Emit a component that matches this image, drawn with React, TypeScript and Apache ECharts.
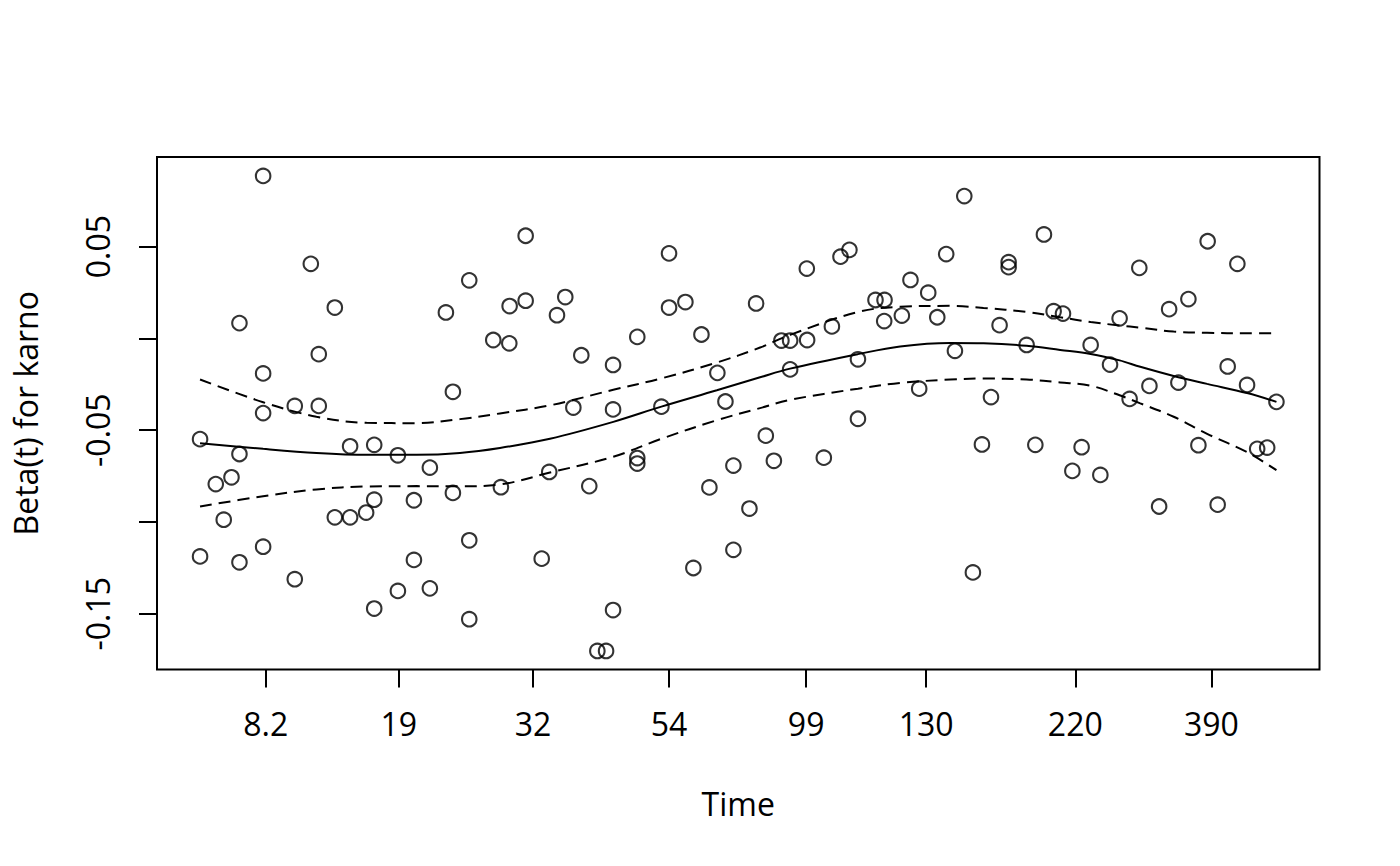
import React, { useEffect, useRef } from "react";
import * as echarts from "echarts";

// Transformed (KM-scale) time of each event and the scaled Schoenfeld residual for karno
const residTime = [
  0.0586, 0.1029, 0.1252, 0.2284, 0.0366, 0.1103, 0.0586, 0.2349, 0.088, 0.1103,
  0.0586, 0.0, 0.1394, 0.1618, 0.0366, 0.1838, 0.2135, 0.0292, 0.0146, 0.1618,
  0.1987, 0.2349, 0.022, 0.1252, 0.1394, 0.1543, 0.0, 0.0366, 0.0586, 0.1987,
  0.088, 0.1838, 0.2135, 0.1618,
  0.3025, 0.4357, 0.2501, 0.2876, 0.3025, 0.3393, 0.3316, 0.4357, 0.4509, 0.5166,
  0.2724, 0.2873, 0.4062, 0.4658, 0.3542, 0.3837, 0.4806, 0.3468, 0.3837, 0.4286,
  0.4881, 0.4062, 0.4062, 0.3244, 0.4955, 0.2795, 0.3616, 0.4732, 0.5104, 0.2501,
  0.3174, 0.4955, 0.4583, 0.2501, 0.3837, 0.3691, 0.3772,
  0.71, 0.784, 0.6033, 0.595, 0.5637, 0.6932, 0.7512, 0.7512, 0.66, 0.6765,
  0.6275, 0.6359, 0.6356, 0.652, 0.6849, 0.7428, 0.587, 0.5401, 0.5482, 0.564,
  0.5482, 0.6112, 0.7013, 0.7679, 0.6681, 0.7348, 0.6112, 0.5256, 0.5331, 0.5795,
  0.7264, 0.776, 0.718,
  0.9361, 0.9637, 0.8726, 0.9182, 0.9003, 0.793, 0.8017, 0.8543, 0.8274, 0.8454,
  0.9547, 0.9727, 0.882, 0.9089, 1.0, 0.8636, 0.819, 0.9275, 0.9821, 0.9914,
  0.8104, 0.8364, 0.891, 0.9454,
];

const residBeta = [
  0.0885, 0.0406, 0.0168, 0.0141, 0.0083, -0.0086, -0.0191, -0.0291, -0.0368, -0.0368,
  -0.0407, -0.0549, -0.0588, -0.058, -0.063, -0.0637, -0.0704, -0.0757, -0.0794, -0.0879,
  -0.0882, -0.0842, -0.0988, -0.0975, -0.0975, -0.0949, -0.1188, -0.122, -0.1135, -0.1207,
  -0.1312, -0.1376, -0.1362, -0.1472,
  0.0559, 0.0463, 0.0316, 0.0176, 0.0205, 0.0225, 0.0126, 0.0168, 0.0198, 0.019,
  -0.0009, -0.0027, 0.0008, 0.0021, -0.0092, -0.0145, -0.0188, -0.0377, -0.0387, -0.0372,
  -0.0344, -0.0652, -0.0682, -0.0728, -0.0693, -0.0811, -0.0805, -0.0812, -0.0927, -0.11,
  -0.12, -0.1152, -0.1251, -0.153, -0.148, -0.1703, -0.1703,
  0.0775, 0.0566, 0.0482, 0.0445, 0.038, 0.0459, 0.0415, 0.0388, 0.0318, 0.0249,
  0.0209, 0.0209, 0.0094, 0.0124, 0.0115, 0.0072, 0.0065, -0.0012, -0.0012, -0.0009,
  -0.0169, -0.0114, -0.0068, -0.0036, -0.0274, -0.032, -0.0438, -0.053, -0.0667, -0.065,
  -0.0578, -0.058, -0.1275,
  0.0529, 0.0406, 0.0384, 0.0214, 0.0159, 0.0148, 0.0135, 0.0109, -0.0036, -0.0143,
  -0.0153, -0.0254, -0.0259, -0.0241, -0.0346, -0.033, -0.0593, -0.0582, -0.0602, -0.0595,
  -0.0722, -0.0744, -0.0916, -0.0906,
];

// Smoothed fit and its confidence band
const fitTime = [
  0, 0.0586, 0.1082, 0.1547, 0.2014, 0.2414, 0.2786, 0.3251, 0.3839, 0.4286, 0.4801,
  0.5203, 0.5482, 0.6112, 0.6504, 0.6969, 0.7279, 0.7679, 0.7991, 0.8274, 0.8543,
  0.8735, 0.9045, 0.9356, 0.9727, 1.0,
];
const fitBeta = [
  -0.0571, -0.0602, -0.0624, -0.0634, -0.0634, -0.0624, -0.0597, -0.0547, -0.0455, -0.0372,
  -0.0283, -0.0212, -0.0165, -0.0086, -0.0044, -0.0025, -0.0027, -0.004, -0.0063, -0.0085,
  -0.012, -0.0155, -0.0205, -0.0248, -0.0298, -0.0346,
];
const upperBeta = [
  -0.0224, -0.0348, -0.0427, -0.046, -0.0462, -0.044, -0.0409, -0.0365, -0.028, -0.0218,
  -0.0132, -0.005, 0.0019, 0.0144, 0.0172, 0.0177, 0.0166, 0.0144, 0.0115, 0.0089,
  0.007, 0.0058, 0.0037, 0.003, 0.0028, 0.0028,
];
const lowerBeta = [
  -0.0916, -0.086, -0.0823, -0.0807, -0.0805, -0.0806, -0.0796, -0.0731, -0.0645, -0.0547,
  -0.0446, -0.038, -0.0335, -0.0274, -0.0243, -0.0224, -0.0219, -0.0224, -0.024, -0.0258,
  -0.031, -0.0354, -0.0427, -0.052, -0.062, -0.0718,
];

// Axis ticks
const xTickPos = [0.0611, 0.1847, 0.3093, 0.4357, 0.5631, 0.6746, 0.8131, 0.9396];
const xTickLabels = ["8.2", "19", "32", "54", "99", "130", "220", "390"];
const yTickPos = [-0.15, -0.1, -0.05, 0, 0.05];
const yLabelPos = [-0.15, -0.05, 0.05];

const FONT = "'Open Sans', 'Noto Sans', sans-serif";
const FS = 32;

export default function App() {
  const ref = useRef<HTMLDivElement>(null);

  useEffect(() => {
    if (!ref.current) return;
    const chart = echarts.init(ref.current, null, { renderer: "svg" });
    const pair = (xs: number[], ys: number[]) => xs.map((x, i) => [x, ys[i]]);
    const lineBase = {
      type: "line" as const,
      showSymbol: false,
      symbol: "none",
      smooth: 0.35,
      silent: true,
      z: 3,
    };
    chart.setOption({
      animation: false,
      backgroundColor: "#fff",
      textStyle: { fontFamily: FONT },
      grid: {
        left: 157,
        right: 80.5,
        top: 157,
        bottom: 196.5,
        show: true,
        borderColor: "#000",
        borderWidth: 2,
        containLabel: false,
      },
      xAxis: {
        type: "value",
        min: -0.04,
        max: 1.04,
        name: "Time",
        nameLocation: "middle",
        nameGap: 118,
        nameTextStyle: { fontSize: FS, color: "#000", fontFamily: FONT },
        splitLine: { show: false },
        axisLine: { show: false, onZero: false },
        axisTick: {
          show: true,
          length: 18,
          customValues: xTickPos,
          lineStyle: { color: "#000", width: 2 },
        },
        axisLabel: {
          customValues: xTickPos,
          margin: 38,
          fontSize: FS,
          color: "#000",
          fontFamily: FONT,
          formatter: (v: number) => {
            let best = 0;
            xTickPos.forEach((p, i) => {
              if (Math.abs(p - v) < Math.abs(xTickPos[best] - v)) best = i;
            });
            return xTickLabels[best];
          },
        },
      },
      yAxis: {
        type: "value",
        min: -0.1804,
        max: 0.0988,
        name: "Beta(t) for karno",
        nameLocation: "middle",
        nameGap: 116,
        nameRotate: 90,
        nameTextStyle: { fontSize: FS, color: "#000", fontFamily: FONT },
        splitLine: { show: false },
        axisLine: { show: false, onZero: false },
        axisTick: {
          show: true,
          length: 18,
          customValues: yTickPos,
          lineStyle: { color: "#000", width: 2 },
        },
        axisLabel: {
          customValues: yLabelPos,
          rotate: 90,
          margin: 44,
          fontSize: FS,
          color: "#000",
          fontFamily: FONT,
          formatter: (v: number) => v.toFixed(2),
        },
      },
      series: [
        {
          type: "scatter",
          data: pair(residTime, residBeta),
          symbol: "circle",
          symbolSize: 14.5,
          itemStyle: { color: "rgba(0,0,0,0)", borderColor: "#000", borderWidth: 2.1 },
          silent: true,
          z: 2,
        },
        {
          ...lineBase,
          data: pair(fitTime, fitBeta),
          lineStyle: { color: "#000", width: 2, type: "solid" },
        },
        {
          ...lineBase,
          data: pair(fitTime, upperBeta),
          lineStyle: { color: "#000", width: 2, type: [12, 7] },
        },
        {
          ...lineBase,
          data: pair(fitTime, lowerBeta),
          lineStyle: { color: "#000", width: 2, type: [12, 7] },
        },
      ],
    });
    return () => chart.dispose();
  }, []);

  return (
    <div
      ref={ref}
      style={{ position: "absolute", left: 0, top: 0, width: 1400, height: 866 }}
    />
  );
}
